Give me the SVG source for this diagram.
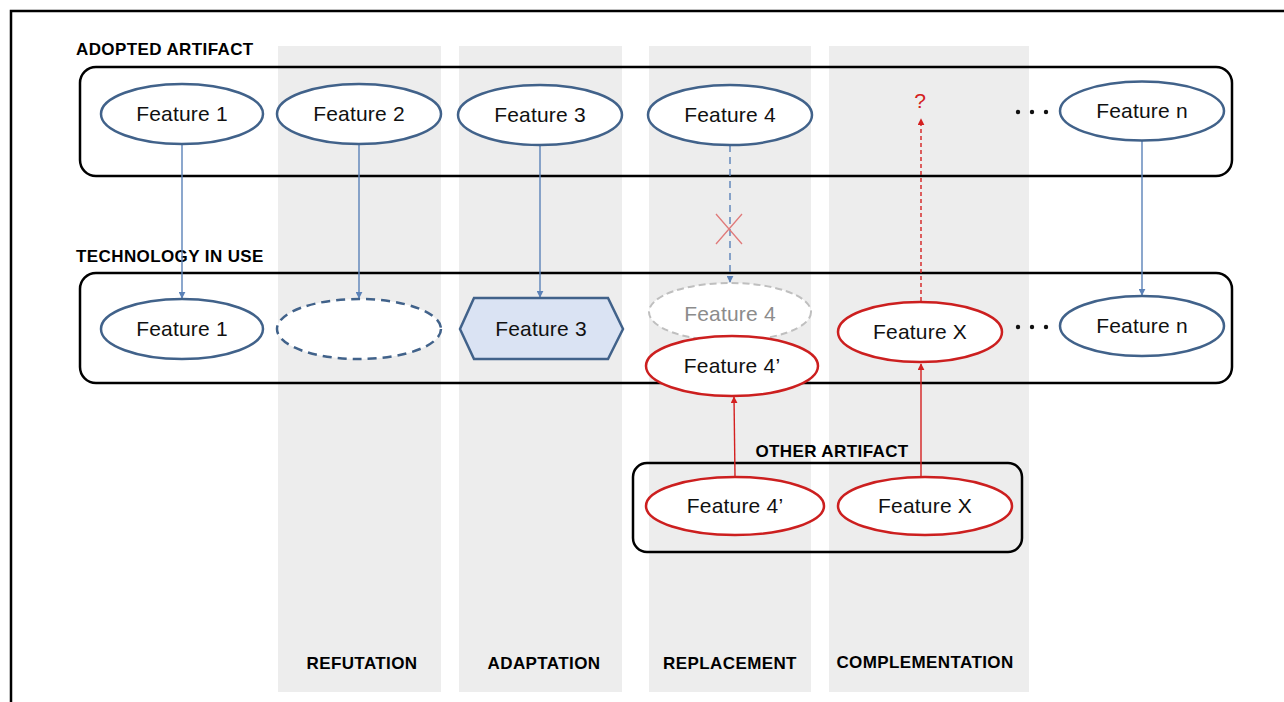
<svg xmlns="http://www.w3.org/2000/svg" width="1284" height="702" viewBox="0 0 1284 702">
<style>
.col{fill:#ededed}
.box{fill:none;stroke:#000;stroke-width:2.5}
.hdr{font-family:"Liberation Sans",Arial,sans-serif;font-weight:bold;font-size:17px;fill:#000;letter-spacing:0.4px}
.lbl{font-family:"Liberation Sans",Arial,sans-serif;font-size:21px;fill:#111;text-anchor:middle;letter-spacing:0.2px}
.be{fill:#fff;stroke:#41628a;stroke-width:2.5}
.re{fill:#fff;stroke:#cc1f1f;stroke-width:2.5}
.bl{stroke:#5b82b8;stroke-width:1.4;fill:none}
.rl{stroke:#d42020;stroke-width:1.4;fill:none}
.dot{fill:#111}
</style>
<defs>
<marker id="ab" viewBox="0 0 10 10" refX="9" refY="5" markerWidth="7" markerHeight="7" orient="auto" markerUnits="userSpaceOnUse"><path d="M0,0 L10,5 L0,10 z" fill="#5b82b8"/></marker>
<marker id="ar" viewBox="0 0 10 10" refX="9" refY="5" markerWidth="7" markerHeight="7" orient="auto" markerUnits="userSpaceOnUse"><path d="M0,0 L10,5 L0,10 z" fill="#d42020"/></marker>
</defs>
<rect width="1284" height="702" fill="#fff"/>
<path d="M11,702 V11 H1284" fill="none" stroke="#000" stroke-width="2.5"/>
<g id="columns">
<rect class="col" x="278" y="46" width="163" height="646"/>
<rect class="col" x="459" y="46" width="163" height="646"/>
<rect class="col" x="649" y="46" width="162" height="646"/>
<rect class="col" x="829" y="46" width="200" height="646"/>
<text class="hdr" x="362" y="669" text-anchor="middle">REFUTATION</text>
<text class="hdr" x="544" y="669" text-anchor="middle">ADAPTATION</text>
<text class="hdr" x="730" y="669" text-anchor="middle">REPLACEMENT</text>
<text class="hdr" x="925" y="668" text-anchor="middle">COMPLEMENTATION</text>
</g>
<g id="adopted-artifact">
<text class="hdr" x="76" y="55">ADOPTED ARTIFACT</text>
<rect class="box" x="80" y="67" width="1152" height="109" rx="16"/>
</g>
<g id="technology-in-use">
<text class="hdr" x="76" y="262">TECHNOLOGY IN USE</text>
<rect class="box" x="80" y="273" width="1152" height="110" rx="16"/>
</g>
<g id="other-artifact">
<text class="hdr" x="832" y="457" text-anchor="middle">OTHER ARTIFACT</text>
<rect class="box" x="633" y="463" width="389" height="89" rx="14"/>
</g>
<g id="connectors">
<line class="bl" x1="182" y1="144" x2="182" y2="298" marker-end="url(#ab)"/>
<line class="bl" x1="359" y1="144" x2="359" y2="298" marker-end="url(#ab)"/>
<line class="bl" x1="540" y1="145" x2="540" y2="297" marker-end="url(#ab)"/>
<line class="bl" x1="730" y1="145" x2="730" y2="282" stroke-dasharray="7,5" marker-end="url(#ab)"/>
<line class="bl" x1="1142" y1="141" x2="1142" y2="295" marker-end="url(#ab)"/>
<path d="M716,214 L742,244 M742,214 L716,244" stroke="#e07a7a" stroke-width="1.3" fill="none"/>
<line class="rl" x1="921" y1="301" x2="921" y2="119" stroke-dasharray="4,3" marker-end="url(#ar)"/>
<line class="rl" x1="735" y1="477" x2="734" y2="397" marker-end="url(#ar)"/>
<line class="rl" x1="921" y1="477" x2="921" y2="364" marker-end="url(#ar)"/>
</g>
<g id="a-feature-1"><ellipse class="be" cx="182" cy="114" rx="81" ry="30"/><text class="lbl" x="182" y="121">Feature 1</text></g>
<g id="a-feature-2"><ellipse class="be" cx="359" cy="114" rx="82" ry="30"/><text class="lbl" x="359" y="121">Feature 2</text></g>
<g id="a-feature-3"><ellipse class="be" cx="540" cy="115" rx="82" ry="30"/><text class="lbl" x="540" y="122">Feature 3</text></g>
<g id="a-feature-4"><ellipse class="be" cx="730" cy="115" rx="82" ry="30"/><text class="lbl" x="730" y="122">Feature 4</text></g>
<g id="a-question"><text x="920" y="108" font-family="Liberation Sans,Arial,sans-serif" font-size="21" fill="#d42020" text-anchor="middle">?</text></g>
<g id="a-dots"><circle class="dot" cx="1018" cy="112" r="2.2"/><circle class="dot" cx="1032" cy="112" r="2.2"/><circle class="dot" cx="1046" cy="112" r="2.2"/></g>
<g id="a-feature-n"><ellipse class="be" cx="1142" cy="111" rx="82" ry="29.5"/><text class="lbl" x="1142" y="118">Feature n</text></g>
<g id="t-feature-1"><ellipse class="be" cx="182" cy="329" rx="81" ry="30"/><text class="lbl" x="182" y="336">Feature 1</text></g>
<g id="t-empty"><ellipse cx="359" cy="329" rx="82" ry="30" fill="#fff" stroke="#41628a" stroke-width="2.5" stroke-dasharray="9,6"/></g>
<g id="t-feature-3"><polygon points="460,329 474,298 608,298 623,329 608,359 474,359" fill="#dae3f3" stroke="#41628a" stroke-width="2.5"/><text class="lbl" x="541" y="336">Feature 3</text></g>
<g id="t-feature-4"><ellipse cx="730" cy="312" rx="81" ry="29" fill="#fff" stroke="#bfbfbf" stroke-width="2" stroke-dasharray="7,4"/><text class="lbl" x="730" y="321" style="fill:#8c8c8c">Feature 4</text></g>
<g id="t-feature-4p"><ellipse class="re" cx="732" cy="366" rx="86" ry="30"/><text class="lbl" x="732" y="373">Feature 4’</text></g>
<g id="t-feature-x"><ellipse class="re" cx="920" cy="332" rx="82" ry="30"/><text class="lbl" x="920" y="339">Feature X</text></g>
<g id="t-dots"><circle class="dot" cx="1018" cy="327" r="2.2"/><circle class="dot" cx="1032" cy="327" r="2.2"/><circle class="dot" cx="1046" cy="327" r="2.2"/></g>
<g id="t-feature-n"><ellipse class="be" cx="1142" cy="326" rx="82" ry="30"/><text class="lbl" x="1142" y="333">Feature n</text></g>
<g id="o-feature-4p"><ellipse class="re" cx="735" cy="506" rx="89" ry="29"/><text class="lbl" x="735" y="513">Feature 4’</text></g>
<g id="o-feature-x"><ellipse class="re" cx="925" cy="506" rx="87" ry="29"/><text class="lbl" x="925" y="513">Feature X</text></g>
</svg>
